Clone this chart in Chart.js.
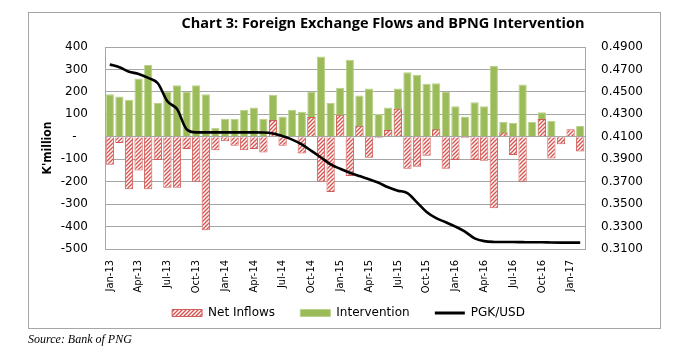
<!DOCTYPE html>
<html><head><meta charset="utf-8">
<script src="https://cdn.jsdelivr.net/npm/chart.js@4.4.0/dist/chart.umd.min.js"></script>
<style>
html,body{margin:0;padding:0;background:#fff;overflow:hidden;width:697px;height:353px}
#wrap{position:relative;width:697px;height:353px}
#frame{position:absolute;left:28px;top:12px;width:631px;height:315px;border:1px solid #A6A6A6;pointer-events:none}
#title{position:absolute;left:0;width:766px;top:13px;text-align:center;font:bold 14.5px "Open Sans",sans-serif;color:#000;white-space:nowrap}
#source{position:absolute;left:28px;top:332px;font:italic 12px "Liberation Serif",serif;color:#000;white-space:nowrap}
canvas{position:absolute;left:0;top:0}
</style>
</head><body>
<div id="wrap">
<canvas id="c" width="697" height="353"></canvas>
<div id="frame"></div>
<div id="title">Chart 3: Foreign Exchange Flows and BPNG Intervention</div>
<div id="source">Source: Bank of PNG</div>
</div>
<script>
const categories = ["Jan-13","Feb-13","Mar-13","Apr-13","May-13","Jun-13","Jul-13","Aug-13","Sep-13","Oct-13","Nov-13","Dec-13",
  "Jan-14","Feb-14","Mar-14","Apr-14","May-14","Jun-14","Jul-14","Aug-14","Sep-14","Oct-14","Nov-14","Dec-14",
  "Jan-15","Feb-15","Mar-15","Apr-15","May-15","Jun-15","Jul-15","Aug-15","Sep-15","Oct-15","Nov-15","Dec-15",
  "Jan-16","Feb-16","Mar-16","Apr-16","May-16","Jun-16","Jul-16","Aug-16","Sep-16","Oct-16","Nov-16","Dec-16",
  "Jan-17","Feb-17"];
const xTickLabels = ["Jan-13","Apr-13","Jul-13","Oct-13","Jan-14","Apr-14","Jul-14","Oct-14","Jan-15","Apr-15","Jul-15","Oct-15","Jan-16","Apr-16","Jul-16","Oct-16","Jan-17"];
const netInflows = [-125,-28,-234,-150,-234,-103,-227,-227,-54,-200,-416,-60,
  -20,-40,-60,-55,-70,75,-40,0,-75,88,-200,-246,
  98,-175,49,-93,-5,30,125,-142,-133,-85,34,-142,
  -103,-5,-103,-107,-318,19,-81,-200,3,79,-97,-33,
  33,-66];
const intervention = [190,180,165,260,320,150,200,230,200,230,190,40,
  80,80,120,130,80,187,90,120,112,200,358,151,
  218,343,184,215,101,130,215,287,276,236,239,199,
  136,90,154,136,315,66,61,233,66,109,70,0,
  0,48];
const pgkUsd = [0.4745,0.4720,0.4680,0.4660,0.4625,0.4577,0.4416,0.4347,0.4167,0.4139,0.4139,0.4139,
  0.4139,0.4139,0.4139,0.4139,0.4138,0.4130,0.4105,0.4075,0.4032,0.3975,0.3915,0.3855,
  0.3815,0.3780,0.3750,0.3722,0.3690,0.3650,0.3620,0.3598,0.3515,0.3430,0.3375,0.3338,
  0.3300,0.3255,0.3195,0.3170,0.3163,0.3162,0.3162,0.3161,0.3160,0.3160,0.3158,0.3157,
  0.3157,0.3157];
const leftTickLabels = ["-500","-400","-300","-200","-100","-   ","100","200","300","400"];
const rightTickLabels = ["0.3100","0.3300","0.3500","0.3700","0.3900","0.4100","0.4300","0.4500","0.4700","0.4900"];
const seriesNames = ["Net Inflows","Intervention","PGK/USD"];

function makeHatch(){
  const c = document.createElement('canvas'); c.width = 4; c.height = 4;
  const x = c.getContext('2d');
  x.fillStyle = '#ffffff'; x.fillRect(0,0,4,4);
  x.strokeStyle = '#D9534F'; x.lineWidth = 1.4;
  x.beginPath();
  x.moveTo(-1,5); x.lineTo(5,-1);
  x.moveTo(-1,1); x.lineTo(1,-1);
  x.moveTo(3,5); x.lineTo(5,3);
  x.stroke();
  return x.createPattern(c,'repeat');
}
const hatch = makeHatch();

Chart.defaults.font.family = '"DejaVu Sans", sans-serif';
Chart.defaults.color = '#000';

new Chart(document.getElementById('c'), {
  type: 'bar',
  data: {
    labels: categories,
    datasets: [
      { type:'bar', label:seriesNames[0], data: netInflows, backgroundColor: hatch, borderColor:'#CF5C59', borderWidth:1,
        grouped:false, barPercentage:0.86, categoryPercentage:1, order:1, yAxisID:'y' },
      { type:'bar', label:seriesNames[1], data: intervention, backgroundColor:'#9BBB59', borderColor:'#B9D18A', borderWidth:1,
        grouped:false, barPercentage:0.86, categoryPercentage:1, order:2, yAxisID:'y' },
      { type:'line', label:seriesNames[2], data: pgkUsd, borderColor:'#000', backgroundColor:'#000', borderWidth:2.6,
        pointRadius:0, tension:0.4, cubicInterpolationMode:'monotone', order:0, yAxisID:'y1' }
    ]
  },
  options: {
    responsive:false, animation:false, devicePixelRatio:1,
    layout:{ padding:{ left:28, right:28, top:47, bottom:24 } },
    plugins:{
      tooltip:{enabled:false},
      title:{display:false},
      legend:{
        position:'bottom',
        labels:{
          usePointStyle:true, pointStyleWidth:30, boxWidth:30, boxHeight:7, padding:10,
          font:{ size:12, family:'"DejaVu Sans", sans-serif' }, color:'#000',
          generateLabels(chart){
            const items = Chart.defaults.plugins.legend.labels.generateLabels(chart);
            items.forEach(it => {
              const ds = chart.data.datasets[it.datasetIndex];
              if (ds.type === 'line') { it.pointStyle = 'line'; it.lineWidth = 3; it.strokeStyle = '#000'; }
              else { it.pointStyle = 'rect'; it.text = it.text + '    '; }
            });
            return items.sort((a,b) => a.datasetIndex - b.datasetIndex);
          }
        }
      }
    },
    scales:{
      x:{
        offset:true,
        grid:{display:false, drawTicks:false},
        border:{display:false},
        ticks:{
          autoSkip:false, maxRotation:90, minRotation:90, padding:11, color:'#000',
          font:{ size:11, family:'"Liberation Sans Narrow","DejaVu Sans Condensed",Lato,sans-serif' },
          callback(v,i){ return xTickLabels.includes(categories[i]) ? categories[i] : ''; }
        },
        afterFit(s){ s.height = 48; }
      },
      y:{
        position:'left', min:-500, max:400,
        ticks:{ stepSize:100, padding:17, color:'#000', font:{size:12},
          callback(v,i){ return leftTickLabels[i] !== undefined ? leftTickLabels[i] : v; } },
        grid:{ color:'#A6A6A6', drawTicks:false, lineWidth:1 },
        border:{ display:true, color:'#A6A6A6' },
        title:{ display:true, text:"K'million", color:'#000',
          font:{ size:12, weight:'bold', family:'"Liberation Sans Narrow","DejaVu Sans Condensed",Lato,sans-serif' },
          padding:{ top:13, bottom:0 } },
        afterFit(s){ s.width = 77; }
      },
      y1:{
        position:'right', min:0.31, max:0.49,
        ticks:{ stepSize:0.02, padding:16, color:'#000', font:{size:12},
          callback(v,i){ return rightTickLabels[i] !== undefined ? rightTickLabels[i] : Number(v).toFixed(4); } },
        grid:{ display:false, drawTicks:false },
        border:{ display:true, color:'#A6A6A6' },
        afterFit(s){ s.width = 84; }
      }
    }
  }
});
</script>
</body></html>
